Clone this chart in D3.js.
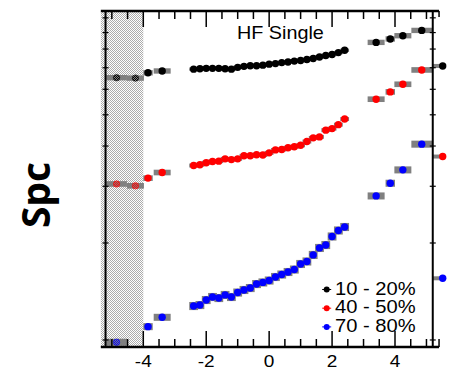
<!DOCTYPE html>
<html>
<head>
<meta charset="utf-8">
<script src="https://cdn.jsdelivr.net/npm/d3@7"></script>
<style>
  body { margin: 0; background: #fff; }
  svg { display: block; }
</style>
</head>
<body>
<svg id="chart" width="452" height="371"></svg>
<script>
// ---- data ----
// central bins (|eta| < 2.4)
const etaMid = [-2.4, -2.2, -2.0, -1.8, -1.6, -1.4, -1.2, -1.0, -0.8, -0.6, -0.4, -0.2, 0,
  0.2, 0.4, 0.6, 0.8, 1.0, 1.2, 1.4, 1.6, 1.8, 2.0, 2.2, 2.4]
const spc1020Mid = [6.93, 6.95, 6.97, 6.97, 6.97, 6.95, 6.93, 7.02, 7.07, 7.10, 7.10, 7.13, 7.18,
  7.21, 7.26, 7.29, 7.34, 7.37, 7.42, 7.48, 7.56, 7.64, 7.69, 7.80, 7.93]
const spc4050Mid = [3.48, 3.50, 3.55, 3.58, 3.59, 3.65, 3.63, 3.65, 3.73, 3.73, 3.76, 3.75, 3.81,
  3.89, 3.90, 3.95, 3.98, 4.02, 4.13, 4.24, 4.27, 4.48, 4.53, 4.66, 4.85]
const spc7080Mid = [1.275, 1.284, 1.331, 1.360, 1.350, 1.380, 1.360, 1.404, 1.430, 1.450, 1.492, 1.509, 1.530,
  1.569, 1.597, 1.626, 1.655, 1.722, 1.753, 1.837, 1.931, 1.972, 2.096, 2.188, 2.243]

// forward bins (HF)
const etaOut = [-4.85, -4.25, -3.85, -3.4, 3.4, 3.85, 4.25, 4.85]
const etaOutHalf = [0.33, 0.27, 0.15, 0.27, 0.27, 0.15, 0.27, 0.33]
const spc1020Out = [6.52, 6.50, 6.75, 6.84, 8.39, 8.60, 8.80, 9.14]
const spc4050Out = [3.05, 3.01, 3.18, 3.31, 5.59, 5.89, 6.22, 6.89]
const spc7080Out = [0.984, null, 1.10, 1.176, 2.80, 3.066, 3.373, 4.054]

// first bin of the neighbouring panel, peeking in on the right
const etaNext = 5.5
const spcNext = [7.09, 3.71, 1.554]

// relative systematic box sizes
const sysMid = [0.012, 0.014, 0.029]
const sysOut = [0.012, 0.013, 0.018]

const seriesNames = ["10 - 20%", "40 - 50%", "70 - 80%"]
const seriesColors = ["#000000", "#ff0000", "#0000ff"]

const xMajor = [-4, -2, 0, 2, 4]
const xMinor = d3.range(-5, 5.01, 0.5)
const yTicks = [1, 2, 3, 4, 5, 6, 7, 8, 9, 10]
const panelTitle = "HF Single"
const yTitle = "Spc"

// ---- scales ----
const svg = d3.select("#chart")
const x = d3.scaleLinear().domain([-4, 4]).range([143.3, 395])
const y = d3.scaleLog().domain([0.951, 10.5]).range([347, 11])

const frameL = x(-5.35), frameR = x(5.4)
const axisL = x(-5.2), axisR = x(5.2)
const yTop = y.range()[1], yBot = y.range()[0]
const stretch = 1.12

const defs = svg.append("defs")
let shade = defs.append("pattern").attr("id", "shade")
  .attr("width", 2).attr("height", 2).attr("patternUnits", "userSpaceOnUse")
shade.append("rect").attr("width", 2).attr("height", 2).attr("fill", "#fff")
shade.append("rect").attr("width", 1).attr("height", 1).attr("fill", "#acacac")
shade.append("rect").attr("x", 1).attr("y", 1).attr("width", 1).attr("height", 1).attr("fill", "#acacac")

seriesColors.forEach((c, i) => {
  let p = defs.append("pattern").attr("id", "hatch" + i)
    .attr("width", 2).attr("height", 2).attr("patternUnits", "userSpaceOnUse")
  p.append("rect").attr("width", 1).attr("height", 1).attr("fill", c)
  p.append("rect").attr("x", 1).attr("y", 1).attr("width", 1).attr("height", 1).attr("fill", c)
})

defs.append("clipPath").attr("id", "plotClip")
  .append("rect").attr("x", frameL).attr("y", yTop).attr("width", axisR - frameL).attr("height", yBot - yTop)

svg.append("rect").attr("width", 452).attr("height", 371).attr("fill", "#fff")

// shaded region eta < -4
svg.append("rect")
  .attr("x", frameL).attr("y", yTop)
  .attr("width", x(-4) - frameL).attr("height", yBot - yTop)
  .attr("fill", "url(#shade)")

// ---- data marks ----
const mid = [spc1020Mid, spc4050Mid, spc7080Mid]
const out = [spc1020Out, spc4050Out, spc7080Out]
const plot = svg.append("g").attr("clip-path", "url(#plotClip)")

// systematic boxes first (grey), then points on top
mid.forEach((vals, s) => {
  plot.append("g").selectAll("rect")
    .data(d3.zip(etaMid, vals))
    .join("rect")
    .attr("x", d => x(d[0] - 0.14))
    .attr("width", d => x(d[0] + 0.14) - x(d[0] - 0.14))
    .attr("y", d => y(d[1] * (1 + sysMid[s])))
    .attr("height", d => y(d[1] * (1 - sysMid[s])) - y(d[1] * (1 + sysMid[s])))
    .attr("fill", "#808080")
})
out.forEach((vals, s) => {
  plot.append("g").selectAll("rect")
    .data(d3.zip(etaOut, vals, etaOutHalf).filter(d => d[1] != null))
    .join("rect")
    .attr("x", d => x(d[0] - d[2]))
    .attr("width", d => x(d[0] + d[2]) - x(d[0] - d[2]))
    .attr("y", d => y(d[1] * (1 + sysOut[s])) - 1)
    .attr("height", d => y(d[1] * (1 - sysOut[s])) - y(d[1] * (1 + sysOut[s])) + 2)
    .attr("fill", "#808080")
})

mid.forEach((vals, s) => {
  plot.append("g").selectAll("circle")
    .data(d3.zip(etaMid, vals))
    .join("circle")
    .attr("cx", d => x(d[0]))
    .attr("cy", d => y(d[1]))
    .attr("r", 3.7)
    .attr("fill", seriesColors[s])
})
out.forEach((vals, s) => {
  plot.append("g").selectAll("circle")
    .data(d3.zip(etaOut, vals).filter(d => d[1] != null))
    .join("circle")
    .attr("cx", d => x(d[0]))
    .attr("cy", d => y(d[1]))
    .attr("r", d => d[0] < -4 ? 3.2 : 3.7)
    .attr("fill", d => d[0] < -4 ? "url(#hatch" + s + ")" : seriesColors[s])
    .attr("stroke", d => d[0] < -4 ? seriesColors[s] : "none")
    .attr("stroke-opacity", 0.6)
    .attr("stroke-width", 1)
})

// neighbouring panel's first bin
svg.append("g").selectAll("rect")
  .data(spcNext)
  .join("rect")
  .attr("x", axisR)
  .attr("width", x(etaNext) - axisR)
  .attr("y", d => y(d) - 2)
  .attr("height", 4)
  .attr("fill", "#808080")
svg.append("g").selectAll("circle")
  .data(spcNext)
  .join("circle")
  .attr("cx", x(etaNext) + 0.5)
  .attr("cy", d => y(d))
  .attr("r", 3.7)
  .attr("fill", (d, i) => seriesColors[i])

// ---- axes ----
let axes = svg.append("g").attr("stroke", "#000").attr("fill", "none")
axes.append("line").attr("x1", frameL).attr("x2", frameR).attr("y1", yTop).attr("y2", yTop).attr("stroke-width", 2.5)
axes.append("line").attr("x1", frameL).attr("x2", frameR).attr("y1", yBot).attr("y2", yBot).attr("stroke-width", 2.5)
axes.append("line").attr("x1", axisL).attr("x2", axisL).attr("y1", yTop).attr("y2", yBot).attr("stroke-width", 2)
axes.append("line").attr("x1", axisR).attr("x2", axisR).attr("y1", yTop).attr("y2", yBot).attr("stroke-width", 2)

// x ticks, top and bottom, pointing inwards
const tickLen = t => xMajor.includes(t) ? 16 : 8
axes.append("g").selectAll("line")
  .data(xMinor)
  .join("line")
  .attr("x1", d => x(d)).attr("x2", d => x(d))
  .attr("y1", yBot).attr("y2", d => yBot - tickLen(d))
  .attr("stroke-width", 1.5)
axes.append("g").selectAll("line")
  .data(xMinor)
  .join("line")
  .attr("x1", d => x(d)).attr("x2", d => x(d))
  .attr("y1", yTop).attr("y2", d => yTop + tickLen(d))
  .attr("stroke-width", 1.5)
// small ticks of the next panel
axes.append("g").selectAll("line")
  .data([5.4])
  .join("line")
  .attr("x1", d => x(d)).attr("x2", d => x(d))
  .attr("y1", yBot).attr("y2", yBot - 8)
  .attr("stroke-width", 1.5)
axes.append("g").selectAll("line")
  .data([5.4])
  .join("line")
  .attr("x1", d => x(d)).attr("x2", d => x(d))
  .attr("y1", yTop).attr("y2", yTop + 6)
  .attr("stroke-width", 1.5)

// y ticks crossing both vertical axes
;[axisL, axisR].forEach(ax => {
  axes.append("g").selectAll("line")
    .data(yTicks)
    .join("line")
    .attr("x1", ax - 3).attr("x2", ax + 3)
    .attr("y1", d => y(d)).attr("y2", d => y(d))
    .attr("stroke-width", 1.2)
})

// ---- text ----
const font = "'Liberation Sans', Arial, Helvetica, sans-serif"

svg.append("g").selectAll("text")
  .data(xMajor)
  .join("text")
  .attr("transform", d => `translate(${x(d)},${367}) scale(${stretch},1)`)
  .attr("text-anchor", "middle")
  .style("font-family", font)
  .style("font-size", "17px")
  .text(d => d)

svg.append("text")
  .attr("transform", `translate(237,39) scale(1.1,1)`)
  .style("font-family", font)
  .style("font-size", "18px")
  .text(panelTitle)

svg.append("text")
  .attr("transform", "translate(50,195) rotate(-90)")
  .attr("text-anchor", "middle")
  .style("font-family", "'Open Sans', sans-serif")
  .style("font-weight", "bold")
  .style("font-size", "39px")
  .text(yTitle)

// legend
let legend = svg.append("g").attr("transform", "translate(326.7,289.5)")
let rows = legend.selectAll("g")
  .data(seriesNames)
  .join("g")
  .attr("transform", (d, i) => `translate(0,${i * 18.7})`)
rows.append("line")
  .attr("x1", -4.5).attr("x2", 4.5)
  .attr("stroke", (d, i) => seriesColors[i])
  .attr("stroke-width", 1)
rows.append("circle")
  .attr("r", 3)
  .attr("fill", (d, i) => seriesColors[i])
rows.append("text")
  .attr("transform", `translate(8.3,5) scale(${stretch},1)`)
  .style("font-family", font)
  .style("font-size", "18px")
  .text(d => d)
</script>
</body>
</html>
